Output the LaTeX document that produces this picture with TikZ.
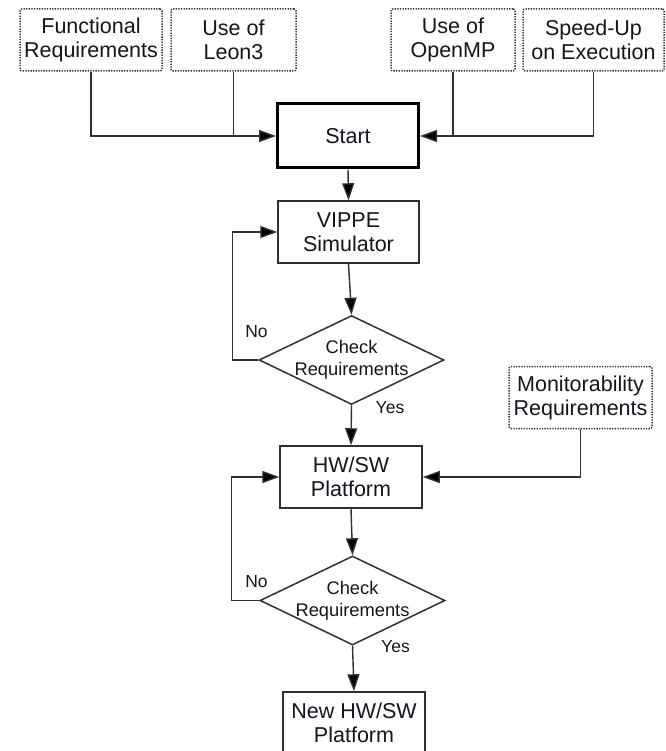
\documentclass[tikz,border=0pt]{standalone}
\usepackage{fontspec}
\setmainfont{Liberation Sans}
\usetikzlibrary{shapes.geometric,arrows.meta}
\definecolor{ink}{HTML}{141420}
\definecolor{wire}{HTML}{303030}
\tikzset{
  boxtext/.style={font=\fontsize{21.5}{24}\selectfont, text=ink, align=center},
  inbox/.style={boxtext, draw=wire, dash pattern=on 1.3pt off 1.3pt, line width=1.5pt, rounded corners=2pt,
    minimum width=#1, minimum height=62pt, inner sep=0pt},
  procbox/.style={boxtext, draw=wire, line width=1.5pt, minimum width=142pt,
    minimum height=62pt, inner sep=0pt},
  startbox/.style={boxtext, draw=black, line width=3pt, minimum width=141pt,
    minimum height=64pt, inner sep=0pt},
  decision/.style={diamond, draw=wire, line width=1.5pt, minimum width=185pt,
    minimum height=89pt, inner sep=0pt},
  dtext/.style={font=\fontsize{18.3}{22}\selectfont, text=ink, align=center},
  edgelabel/.style={font=\fontsize{17.5}{20}\selectfont, text=ink, anchor=base},
  flow/.style={draw=wire, line width=1.4pt, -{Triangle[length=17pt,width=12pt,fill=black]}},
  plain/.style={draw=wire, line width=1.4pt}
}
\begin{document}
\begin{tikzpicture}[x=1pt,y=-1pt]
\useasboundingbox (0,0) rectangle (665,751);

% inputs along the top
\node[inbox=142pt] (func) at (91,40) {Functional\\Requirements};
\node[inbox=125pt] (leon) at (233.5,40) {Use of\\Leon3};
\node[inbox=124pt] (omp) at (453,40) {Use of\\OpenMP};
\node[inbox=141pt] (speed) at (593.5,40) {Speed-Up\\on Execution};

% main flow
\node[startbox] (start) at (348,136) {Start};
\node[procbox, minimum width=141pt] (vippe) at (348.5,232) {VIPPE\\Simulator};
\node[decision] (chk1) at (351.5,360) {};
\node[dtext] (chk1t) at (chk1) {Check\\Requirements};
\node[procbox] (hwsw) at (351,477) {HW/SW\\Platform};
\node[decision] (chk2) at (352.5,600.5) {};
\node[dtext] (chk2t) at (chk2) {Check\\Requirements};
\node[procbox] (newhw) at (354,723) {New HW/SW\\Platform};

% side input
\node[inbox=143pt] (mon) at (580.5,397.5) {Monitorability\\Requirements};

% inputs into Start
\draw[flow] (func.south) |- (start.west);
\draw[plain] (leon.south) -- (leon.south |- start.west);
\draw[flow] (speed.south) |- (start.east);
\draw[plain] (omp.south) -- (omp.south |- start.east);

% downward flow
\draw[flow] (start.south) -- (vippe.north);
\draw[flow] (vippe.south) -- (chk1.north);
\draw[flow] (chk1.south) -- (hwsw.north);
\draw[flow] (hwsw.south) -- (chk2.north);
\draw[flow] (chk2.south) -- (newhw.north);

% feedback loops
\draw[flow] (chk1.west) -- ++(-26,0) |- (vippe.west);
\draw[flow] (chk2.west) -- ++(-28,0) |- (hwsw.west);

% monitorability into the platform
\draw[flow] (mon.south) |- (hwsw.east);

% branch labels
\node[edgelabel] (no1) at (256.5,337.5) {No};
\node[edgelabel] (yes1) at (390,413) {Yes};
\node[edgelabel] (no2) at (256.5,587) {No};
\node[edgelabel] (yes2) at (395.5,652) {Yes};
\end{tikzpicture}
\end{document}
